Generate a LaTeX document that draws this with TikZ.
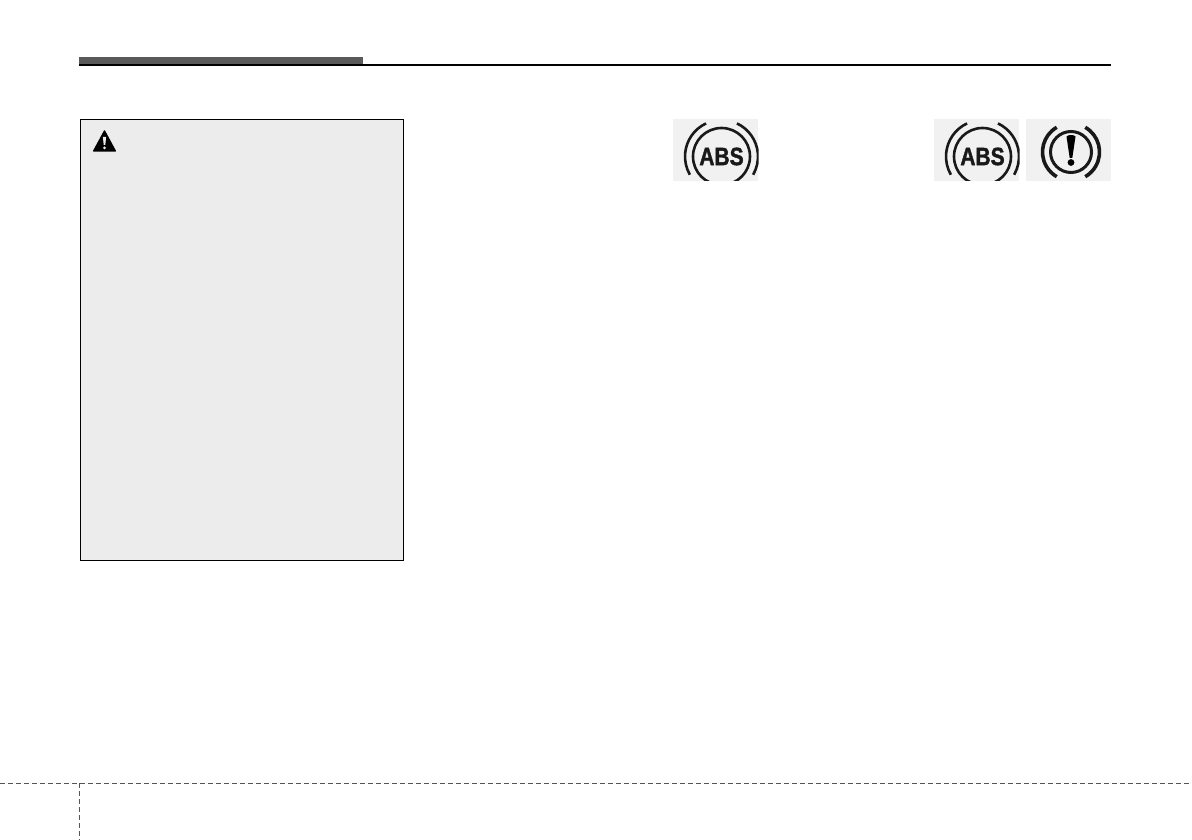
\documentclass[tikz,border=0pt]{standalone}
\usepackage{fontspec}
\usepackage{graphicx}
\setmainfont{Liberation Sans}
\newfontfamily\absfont[FakeBold=1.6]{Liberation Sans}
\tikzset{
  x=1pt,y=-1pt,
  iconbg/.style={fill=iconfill,draw=none,minimum width=85pt,minimum height=62pt,inner sep=0pt,outer sep=0pt},
  ring/.style={draw=black!90,line width=2.6pt},
  rule/.style={draw=black,line width=2pt},
  dashrule/.style={draw=dashc,line width=1pt,dash pattern=on 5pt off 3pt},
  abstext/.style={font=\absfont\bfseries\fontsize{25}{25}\selectfont,inner sep=0pt,text=black!90}
}
\definecolor{iconfill}{HTML}{F1F1F1}
\definecolor{panelfill}{HTML}{ECECEC}
\definecolor{barfill}{HTML}{5A5A5A}
\definecolor{dashc}{HTML}{555555}
\begin{document}
\begin{tikzpicture}
\useasboundingbox[fill=white] (0,0) rectangle (1192,840);
% header
\fill[barfill] (79,57) rectangle (363,65);
\coordinate (ruleL) at (79,65);
\coordinate (ruleR) at (1111,65);
\draw[rule] (ruleL) -- (ruleR);
% warning panel
\node[draw=black,line width=1pt,fill=panelfill,minimum width=323pt,minimum height=441pt,inner sep=0pt,outer sep=0pt] (panel) at (242,340) {};
% warning triangle
\fill[black,line join=round,draw=black,line width=1.4pt] (104.5,131) -- (115.3,151) -- (93.7,151) -- cycle;
\fill[panelfill] (102.9,137) -- (106.1,137) -- (105.3,145) -- (103.7,145) -- cycle;
\fill[panelfill] (104.5,147.8) circle (1.5);
% ABS icon 1
\node[iconbg] (iconA) at (715.5,150) {};
\begin{scope}
\clip (673,119) rectangle (758.5,181);
\draw[ring] (721.5,156.5) circle (28.5);
\draw[ring] (721.5,156.5) ++(245:36.5) arc[start angle=245,end angle=150,radius=36.5];
\draw[ring] (721.5,156.5) ++(-65:36.5) arc[start angle=-65,end angle=30,radius=36.5];
\end{scope}
\node[abstext] (absA) at (721.5,156.5) {\scalebox{.84}[1]{ABS}};
% ABS icon 2
\node[iconbg] (iconB) at (976.5,150) {};
\begin{scope}
\clip (934,119) rectangle (1019.5,181);
\draw[ring] (982.5,156.5) circle (28.5);
\draw[ring] (982.5,156.5) ++(245:36.5) arc[start angle=245,end angle=150,radius=36.5];
\draw[ring] (982.5,156.5) ++(-65:36.5) arc[start angle=-65,end angle=30,radius=36.5];
\end{scope}
\node[abstext] (absB) at (982.5,156.5) {\scalebox{.84}[1]{ABS}};
% brake icon
\node[iconbg] (iconC) at (1068.5,150) {};
\draw[ring,line width=3pt] (1071,152) circle (20.5);
\draw[ring,line width=3.6pt] (1071,152) ++(240:28.5) arc[start angle=240,end angle=120,radius=28.5];
\draw[ring,line width=3.6pt] (1071,152) ++(-60:28.5) arc[start angle=-60,end angle=60,radius=28.5];
\fill[black] (1066.5,136.5) .. controls (1067.5,134.5) and (1074.5,134.5) .. (1075.5,136.5) -- (1072.3,158) -- (1069.7,158) -- cycle;
\fill[black] (1071,162.5) circle (3.4);
% footer
\coordinate (dashL) at (0,783);
\coordinate (dashR) at (1192,783);
\coordinate (dashT) at (79,783);
\coordinate (dashB) at (79,840);
\draw[dashrule] (dashL) -- (dashR);
\draw[dashrule] (dashT) -- (dashB);
\end{tikzpicture}
\end{document}
